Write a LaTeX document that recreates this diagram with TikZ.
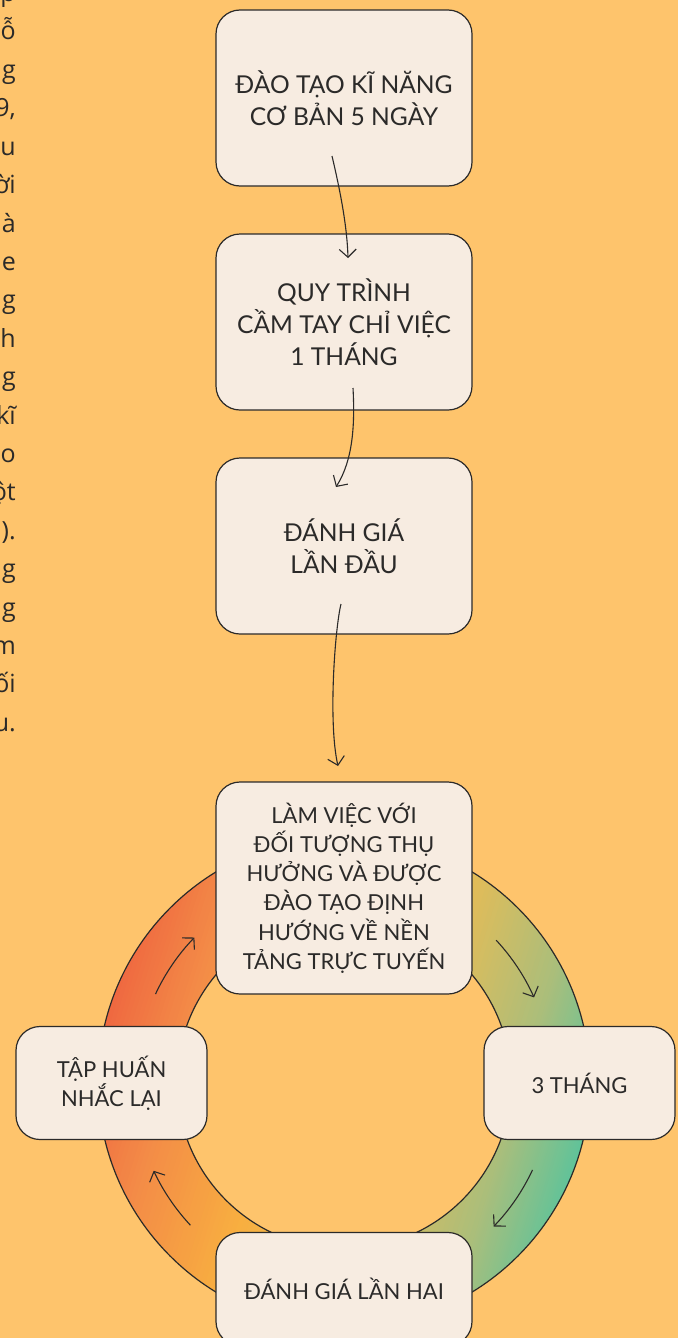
\documentclass[tikz,border=0pt]{standalone}
\usepackage{fontspec}
\setmainfont{Lato}
\newfontfamily\sidefont{Open Sans}
\usetikzlibrary{arrows.meta}
\definecolor{bg}{HTML}{FEC46C}
\definecolor{boxfill}{HTML}{F7ECE1}
\definecolor{ink}{HTML}{2B2A29}
\definecolor{r1}{HTML}{EE5E3E}
\definecolor{r2}{HTML}{F38B47}
\definecolor{r3}{HTML}{F8AF40}
\definecolor{r4}{HTML}{E4BC57}
\definecolor{r5}{HTML}{A9BE7C}
\definecolor{r6}{HTML}{7DC18E}
\definecolor{r7}{HTML}{48C4A3}
\tikzset{
  card/.style={draw=ink, fill=boxfill, rounded corners=24pt, line width=1.2pt,
    minimum width=256pt, minimum height=176pt, align=center, inner sep=0pt,
    text=ink, font=\fontsize{24.6}{31.8}\selectfont},
  ringcard/.style={card, font=\fontsize{22}{29.2}\selectfont},
  sidecard/.style={ringcard, minimum width=191pt, minimum height=113pt},
  sidetext/.style={anchor=base east, inner sep=0pt, text=ink,
    font=\sidefont\fontsize{25}{30}\selectfont},
  flow/.style={draw=ink, line width=1.1pt, -{Straight Barb[length=8pt,width=17pt]}},
  ringedge/.style={draw=ink, line width=1.2pt}
}
\begin{document}
\begin{tikzpicture}[x=1pt,y=-1pt]
\useasboundingbox (0,0) rectangle (678,1338);
\fill[bg] (0,0) rectangle (678,1338);

% left column text fragments
\foreach \t [count=\k from 0] in {p,ỗ,g,{9,},u,ời,à,e,g,h,g,kĩ,o,ột,{).},g,g,m,ối,{u.}}{
  \node[sidetext] (side\k) at (16,{1.6+\k*38.4}) {\t};
}

% ring with gradient
\coordinate (C) at (344,1082);
\begin{scope}[even odd rule]
  \clip (C) circle[radius=246] (C) circle[radius=167];
  \begin{scope}[shift={(344,1082)}, rotate=-17]
    \foreach \ua/\ub/\ca/\cb in {-270/-170/r1/r2, -170/-60/r2/r3, -60/60/r3/r4, 60/170/r4/r5, 170/215/r5/r6, 215/270/r6/r7}{
      \foreach \k in {0,...,24}{
        \pgfmathsetmacro\p{100*\k/24}
        \pgfmathsetmacro\xa{\ua+(\ub-\ua)*\k/24}
        \pgfmathsetmacro\xb{\ua+(\ub-\ua)*(\k+1)/24+0.8}
        \colorlet{tmpc}{\cb!\p!\ca}
        \fill[tmpc] (\xa,-300) rectangle (\xb,300);
      }
    }
  \end{scope}
\end{scope}
\draw[ringedge] (C) circle[radius=246];
\draw[ringedge] (C) circle[radius=167];

% ring arrows
\draw[flow] (C) ++(-43:208) arc[start angle=-43, end angle=-24, radius=208];
\draw[flow] (C) ++(25:208) arc[start angle=25, end angle=44, radius=208];
\draw[flow] (C) ++(137:210) arc[start angle=137, end angle=155, radius=210];
\draw[flow] (C) ++(205:208) arc[start angle=205, end angle=224, radius=208];

% boxes
\node[card] (b1) at (344,98) {ĐÀO TẠO KĨ NĂNG\\CƠ BẢN 5 NGÀY};
\node[card] (b2) at (344,322) {QUY TRÌNH\\CẦM TAY CHỈ VIỆC\\1 THÁNG};
\node[card] (b3) at (344,546) {ĐÁNH GIÁ\\LẦN ĐẦU};
\node[ringcard, minimum height=212pt] (b4) at (344,888)
  {LÀM VIỆC VỚI\\ĐỐI TƯỢNG THỤ\\HƯỞNG VÀ ĐƯỢC\\ĐÀO TẠO ĐỊNH\\HƯỚNG VỀ NỀN\\TẢNG TRỰC TUYẾN};
\node[sidecard] (bl) at (111.5,1083) {TẬP HUẤN\\NHẮC LẠI};
\node[sidecard] (br) at (579.5,1083) {3 THÁNG};
\node[ringcard, minimum height=113pt] (bb) at (344,1289) {ĐÁNH GIÁ LẦN HAI};

% connectors between the upper boxes
\coordinate (a1s) at (332,156);
\coordinate (a1e) at (348,258);
\coordinate (a2s) at (353,388);
\coordinate (a2e) at (336,487);
\coordinate (a3s) at (341,604);
\coordinate (a3e) at (338,766);
\draw[flow] (a1s) .. controls (340,190) and (347,225) .. (a1e);
\draw[flow] (a2s) .. controls (355,425) and (353,460) .. (a2e);
\draw[flow] (a3s) .. controls (335,628) and (328,722) .. (a3e);
\end{tikzpicture}
\end{document}
